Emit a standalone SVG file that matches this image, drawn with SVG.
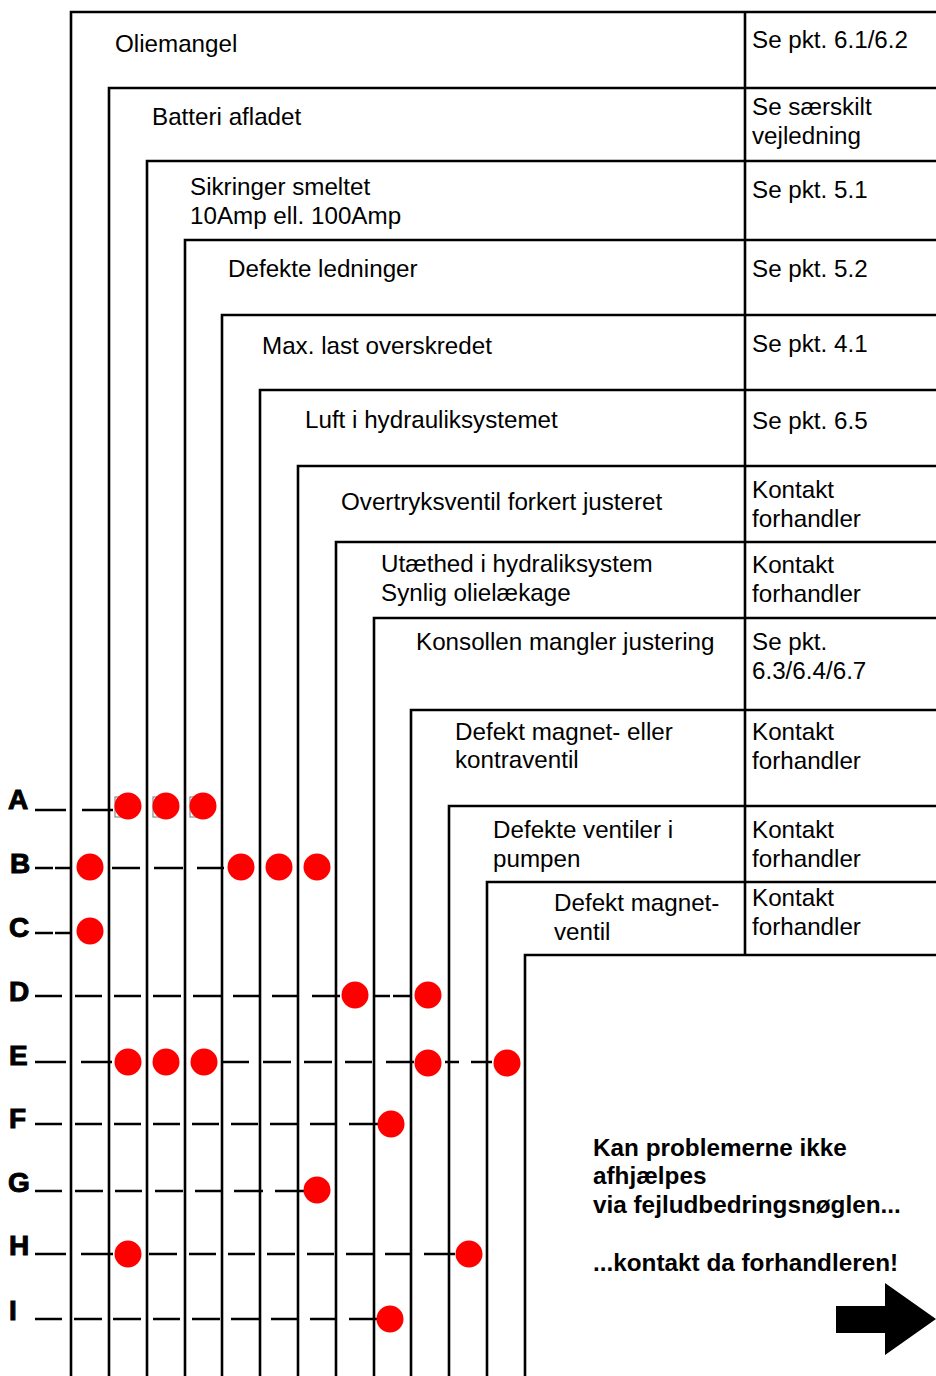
<svg xmlns="http://www.w3.org/2000/svg" width="936" height="1376" viewBox="0 0 936 1376">
<style>
.fr{fill:none;stroke:#000;stroke-width:2.6}
.t{font-family:"Liberation Sans",Arial,sans-serif;font-size:24.2px;fill:#000}
.rl{font-family:"Liberation Sans",Arial,sans-serif;font-size:28px;font-weight:bold;fill:#000;stroke:#000;stroke-width:1}
.b{font-family:"Liberation Sans",Arial,sans-serif;font-size:24.3px;font-weight:bold;fill:#000}
.d{stroke:#000;stroke-width:2.6;fill:none}
.dot{fill:#ff0000}
.sq{fill:none;stroke:#8a8a8a;stroke-width:1.2}
</style>
<rect width="936" height="1376" fill="#fff"/>
<g id="frame-1"><path class="fr" d="M71,1376V12H936"/><text class="t" x="115" y="52">Oliemangel</text><text class="t" x="752" y="48">Se pkt. 6.1/6.2</text></g>
<g id="frame-2"><path class="fr" d="M109,1376V88H936"/><text class="t" x="152" y="125">Batteri afladet</text><text class="t" x="752" y="115">Se særskilt</text><text class="t" x="752" y="144">vejledning</text></g>
<g id="frame-3"><path class="fr" d="M147,1376V161H936"/><text class="t" x="190" y="195">Sikringer smeltet</text><text class="t" x="190" y="224">10Amp ell. 100Amp</text><text class="t" x="752" y="198">Se pkt. 5.1</text></g>
<g id="frame-4"><path class="fr" d="M185,1376V240H936"/><text class="t" x="228" y="277">Defekte ledninger</text><text class="t" x="752" y="277">Se pkt. 5.2</text></g>
<g id="frame-5"><path class="fr" d="M222,1376V315H936"/><text class="t" x="262" y="354">Max. last overskredet</text><text class="t" x="752" y="352">Se pkt. 4.1</text></g>
<g id="frame-6"><path class="fr" d="M260,1376V390H936"/><text class="t" x="305" y="428">Luft i hydrauliksystemet</text><text class="t" x="752" y="429">Se pkt. 6.5</text></g>
<g id="frame-7"><path class="fr" d="M298,1376V466H936"/><text class="t" x="341" y="510">Overtryksventil forkert justeret</text><text class="t" x="752" y="498">Kontakt</text><text class="t" x="752" y="527">forhandler</text></g>
<g id="frame-8"><path class="fr" d="M336,1376V542H936"/><text class="t" x="381" y="572">Utæthed i hydraliksystem</text><text class="t" x="381" y="601">Synlig olielækage</text><text class="t" x="752" y="573">Kontakt</text><text class="t" x="752" y="602">forhandler</text></g>
<g id="frame-9"><path class="fr" d="M374,1376V618H936"/><text class="t" x="416" y="650">Konsollen mangler justering</text><text class="t" x="752" y="650">Se pkt.</text><text class="t" x="752" y="679">6.3/6.4/6.7</text></g>
<g id="frame-10"><path class="fr" d="M411,1376V710H936"/><text class="t" x="455" y="740">Defekt magnet- eller</text><text class="t" x="455" y="768">kontraventil</text><text class="t" x="752" y="740">Kontakt</text><text class="t" x="752" y="769">forhandler</text></g>
<g id="frame-11"><path class="fr" d="M449,1376V806H936"/><text class="t" x="493" y="838">Defekte ventiler i</text><text class="t" x="493" y="867">pumpen</text><text class="t" x="752" y="838">Kontakt</text><text class="t" x="752" y="867">forhandler</text></g>
<g id="frame-12"><path class="fr" d="M487,1376V882H936"/><text class="t" x="554" y="911">Defekt magnet-</text><text class="t" x="554" y="940">ventil</text><text class="t" x="752" y="906">Kontakt</text><text class="t" x="752" y="935">forhandler</text></g>
<g id="frame-13"><path class="fr" d="M525,1376V955H936"/></g>
<g id="divider"><path class="fr" d="M745,12V955"/></g>
<g id="row-labels">
<text class="rl" x="8" y="809">A</text>
<text class="rl" x="10" y="873">B</text>
<text class="rl" x="9" y="937">C</text>
<text class="rl" x="9" y="1001">D</text>
<text class="rl" x="9" y="1065">E</text>
<text class="rl" x="9" y="1128">F</text>
<text class="rl" x="8" y="1192">G</text>
<text class="rl" x="9" y="1255">H</text>
<text class="rl" x="9" y="1320">I</text>
</g>
<g id="connectors">
<path class="d" d="M35,810H66M82,810H113"/>
<path class="d" d="M35,868H53M55,868H72M112,868H140M154,868H183M197,868H224"/>
<path class="d" d="M35,933H53M55,933H72"/>
<path class="d" d="M35,996H62M75,996H102M114,996H141M153,996H181M193,996H221M233,996H259M272,996H298M312,996H340M374,996H390M393,996H410"/>
<path class="d" d="M35,1062H66M81,1062H112M222,1062H249M263,1062H291M304,1062H332M345,1062H372M386,1062H414M445,1062H459M471,1062H492"/>
<path class="d" d="M35,1124H62M75,1124H102M114,1124H141M153,1124H180M192,1124H219M231,1124H258M270,1124H298M310,1124H335M349,1124H378"/>
<path class="d" d="M35,1191H62M75,1191H103M115,1191H142M155,1191H183M195,1191H221M234,1191H263M275,1191H304"/>
<path class="d" d="M35,1254H66M81,1254H113M149,1254H177M189,1254H216M228,1254H255M267,1254H295M307,1254H334M346,1254H373M385,1254H411M424,1254H455"/>
<path class="d" d="M35,1319H62M74,1319H102M113,1319H141M153,1319H180M192,1319H220M231,1319H259M271,1319H298M310,1319H335M349,1319H377"/>
</g>
<g id="dots">
<rect class="sq" x="115" y="797" width="13" height="20"/>
<rect class="sq" x="153" y="797" width="13" height="20"/>
<rect class="sq" x="190" y="797" width="13" height="20"/>
<circle class="dot" cx="128" cy="806" r="13.5"/><circle class="dot" cx="166" cy="806" r="13.5"/><circle class="dot" cx="203" cy="806" r="13.5"/>
<circle class="dot" cx="90" cy="867" r="13.5"/><circle class="dot" cx="241" cy="867" r="13.5"/><circle class="dot" cx="279" cy="867" r="13.5"/><circle class="dot" cx="317" cy="867" r="13.5"/>
<circle class="dot" cx="90" cy="931" r="13.5"/>
<circle class="dot" cx="355" cy="995" r="13.5"/><circle class="dot" cx="428" cy="995" r="13.5"/>
<circle class="dot" cx="128" cy="1062" r="13.5"/><circle class="dot" cx="166" cy="1062" r="13.5"/><circle class="dot" cx="204" cy="1062" r="13.5"/><circle class="dot" cx="428" cy="1063" r="13.5"/><circle class="dot" cx="507" cy="1063" r="13.5"/>
<circle class="dot" cx="391" cy="1124" r="13.5"/>
<circle class="dot" cx="317" cy="1190" r="13.5"/>
<circle class="dot" cx="128" cy="1254" r="13.5"/><circle class="dot" cx="469" cy="1254" r="13.5"/>
<circle class="dot" cx="390" cy="1319" r="13.5"/>
</g>
<g id="note">
<text class="b" x="593" y="1156">Kan problemerne ikke</text>
<text class="b" x="593" y="1184">afhjælpes</text>
<text class="b" x="593" y="1213">via fejludbedringsnøglen...</text>
<text class="b" x="593" y="1271">...kontakt da forhandleren!</text>
<polygon points="836,1306 885,1306 885,1283 936,1319 885,1355 885,1333 836,1333" fill="#000"/>
</g>
</svg>
